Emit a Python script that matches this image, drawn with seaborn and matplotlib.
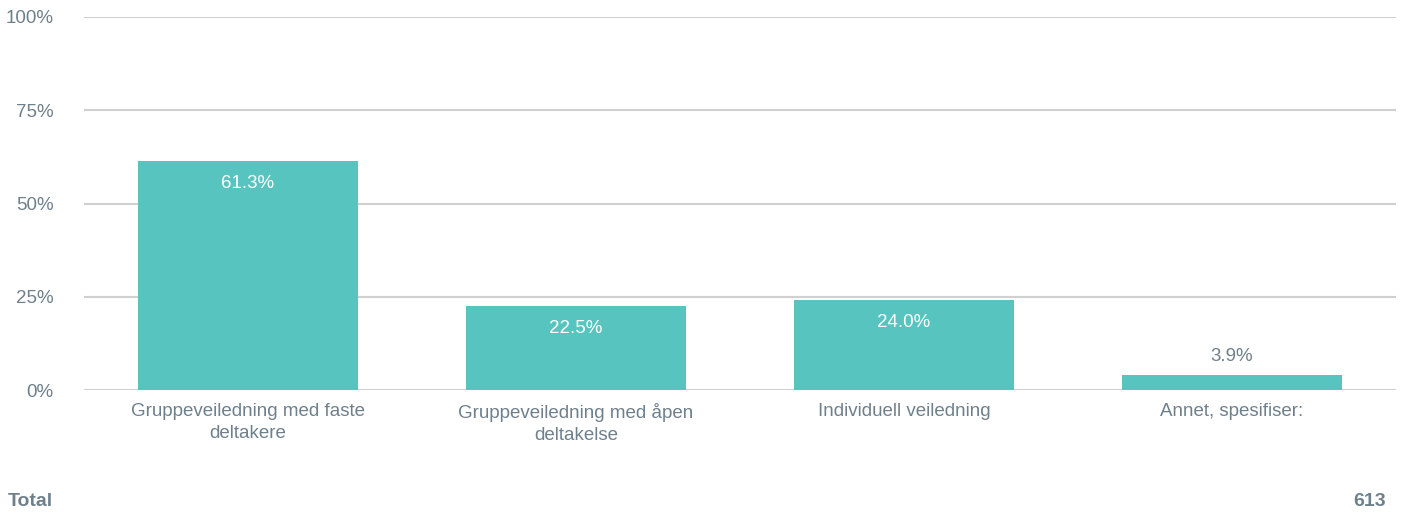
import matplotlib.pyplot as plt
import seaborn as sns
import pandas as pd

# Data
categories = [
    "Gruppeveiledning med faste\ndeltakere",
    "Gruppeveiledning med åpen\ndeltakelse",
    "Individuell veiledning",
    "Annet, spesifiser:",
]
values = [61.3, 22.5, 24.0, 3.9]
yticks = [0, 25, 50, 75, 100]
total_n = 613

df = pd.DataFrame({"Category": categories, "Percent": values})

bar_color = "#57C4C0"
text_color = "#6E808C"
grid_color = "#D0D0D0"

sns.set_theme(style="white")
plt.rcParams["font.family"] = ["Liberation Sans", "DejaVu Sans"]

fig = plt.figure(figsize=(14.04, 5.15), dpi=100)
ax = fig.add_axes([0.0598, 0.2427, 0.9345, 0.7243])

sns.barplot(data=df, x="Category", y="Percent", color=bar_color,
            saturation=1, width=0.67, linewidth=0, ax=ax, zorder=3)

ax.set_ylim(0, 100)
ax.set_xlim(-0.5, len(categories) - 0.5)
ax.set_yticks(yticks)
ax.set_yticklabels([f"{t}%" for t in yticks])
ax.yaxis.grid(True, color=grid_color, linewidth=1.5, zorder=0)
ax.set_xlabel("")
ax.set_ylabel("")
for s in ax.spines.values():
    s.set_visible(False)
ax.tick_params(axis="y", length=0, pad=22, labelsize=13.5, labelcolor=text_color)
ax.tick_params(axis="x", length=0, pad=9, labelsize=13.5, labelcolor=text_color)
for lab in ax.get_xticklabels():
    lab.set_linespacing(1.4)

# Value labels
for i, v in enumerate(values):
    if v > 10:
        ax.annotate(f"{v:.1f}%", (i, v), xytext=(0, -16), textcoords="offset points",
                    ha="center", va="center", color="white", fontsize=13.5, zorder=4)
    else:
        ax.annotate(f"{v:.1f}%", (i, v), xytext=(0, 14), textcoords="offset points",
                    ha="center", va="center", color=text_color, fontsize=13.5, zorder=4)

fig.text(8 / 1404, 1 - 502 / 515, "Total", ha="left", va="center",
         fontsize=14, fontweight="bold", color=text_color)
fig.text(1386 / 1404, 1 - 502 / 515, str(total_n), ha="right", va="center",
         fontsize=14, fontweight="bold", color=text_color)

fig.savefig("out.png", dpi=100)
